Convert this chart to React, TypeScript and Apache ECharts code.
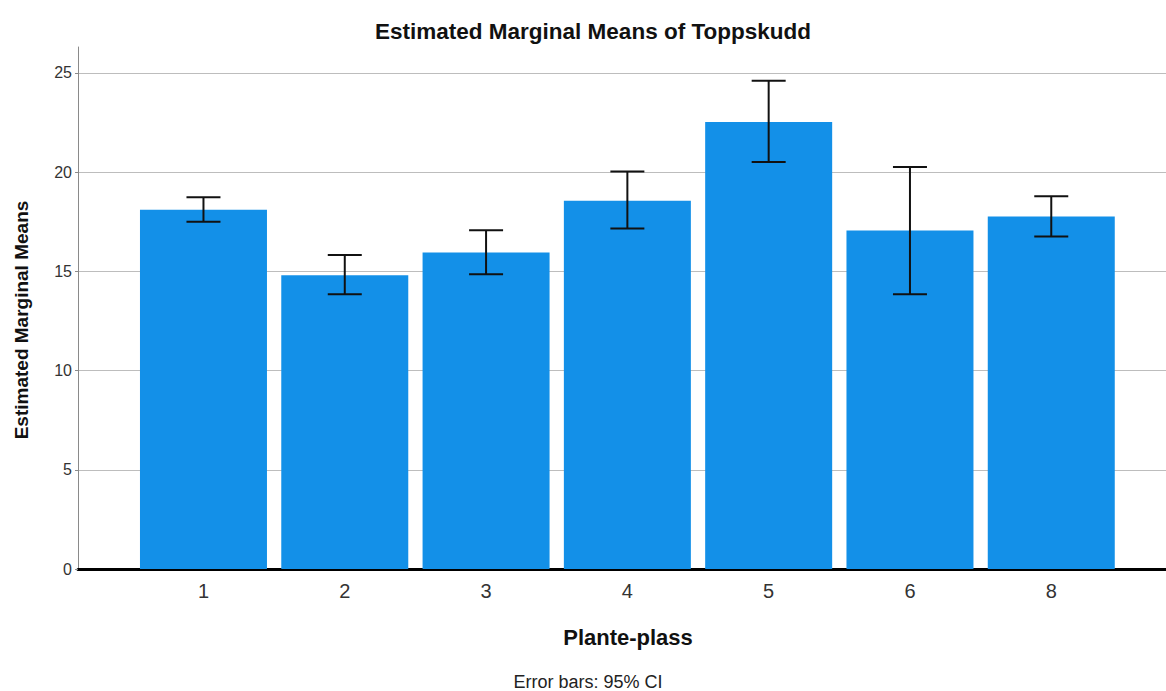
import React, { useEffect, useRef } from "react";
import * as echarts from "echarts";

const categories = ["1", "2", "3", "4", "5", "6", "8"];
const means = [18.1, 14.8, 15.95, 18.55, 22.52, 17.05, 17.76];
const lower = [17.49, 13.84, 14.85, 17.15, 20.5, 13.84, 16.75];
const upper = [18.73, 15.82, 17.07, 20.03, 24.6, 20.26, 18.78];
const yTicks = [0, 5, 10, 15, 20, 25];

export default function App() {
  const ref = useRef<HTMLDivElement>(null);
  useEffect(() => {
    if (!ref.current) return;
    const chart = echarts.init(ref.current, null, { renderer: "svg" });
    const font = "'Liberation Sans', Arial, sans-serif";
    const idx = categories.map((_, i) => i);
    chart.setOption({
      animation: false,
      backgroundColor: "#ffffff",
      textStyle: { fontFamily: font },
      title: {
        text: "Estimated Marginal Means of Toppskudd",
        left: 588,
        textAlign: "center",
        top: 15,
        textStyle: { fontFamily: font, fontSize: 22.5, fontWeight: "bold", color: "#111" },
      },
      graphic: [
        {
          type: "text",
          x: 21,
          y: 320,
          rotation: Math.PI / 2,
          style: {
            text: "Estimated Marginal Means",
            fontFamily: font,
            fontSize: 19,
            fontWeight: "bold",
            fill: "#111",
            align: "center",
            verticalAlign: "middle",
          },
        },
        {
          type: "text",
          x: 588,
          y: 682,
          style: {
            text: "Error bars: 95% CI",
            fontFamily: font,
            fontSize: 18,
            fill: "#222",
            align: "center",
            verticalAlign: "middle",
          },
        },
      ],
      grid: { left: 78, right: 0, top: 47, bottom: 122, containLabel: false },
      xAxis: {
        type: "value",
        min: -0.888,
        max: 6.812,
        name: "Plante-plass",
        nameLocation: "middle",
        nameGap: 57,
        nameTextStyle: { fontFamily: font, fontSize: 22, fontWeight: "bold", color: "#111", padding: [0, 0, 0, 12] },
        axisLine: { show: true, onZero: false, lineStyle: { color: "#000", width: 3 } },
        axisTick: { show: false },
        splitLine: { show: false },
        axisLabel: {
          customValues: idx,
          formatter: (v: number) => categories[Math.round(v)] ?? "",
          fontFamily: font,
          fontSize: 20,
          color: "#333",
          margin: 12,
        },
      },
      yAxis: {
        type: "value",
        min: 0,
        max: 26.3,
        axisLine: { show: true, onZero: false, lineStyle: { color: "#8a8a8a", width: 1 } },
        axisTick: { show: true, customValues: yTicks, length: 3, lineStyle: { color: "#8a8a8a" } },
        axisLabel: {
          customValues: yTicks,
          fontFamily: font,
          fontSize: 16,
          color: "#333",
          margin: 6,
        },
        splitLine: { show: true, lineStyle: { color: "#bdbdbd", width: 1 } },
      },
      series: [
        {
          type: "bar",
          data: means.map((m, i) => [i, m]),
          barWidth: 127,
          itemStyle: { color: "#1390e8" },
          z: 2,
        },
        {
          type: "custom",
          data: idx.map((i) => [i, lower[i], upper[i]]),
          z: 5,
          renderItem: (params: any, api: any) => {
            const x = api.value(0);
            const lo = api.coord([x, api.value(1)]);
            const hi = api.coord([x, api.value(2)]);
            const half = 17;
            const style = { stroke: "#111", lineWidth: 2 };
            return {
              type: "group",
              children: [
                { type: "line", shape: { x1: lo[0], y1: lo[1], x2: hi[0], y2: hi[1] }, style },
                { type: "line", shape: { x1: hi[0] - half, y1: hi[1], x2: hi[0] + half, y2: hi[1] }, style },
                { type: "line", shape: { x1: lo[0] - half, y1: lo[1], x2: lo[0] + half, y2: lo[1] }, style },
              ],
            };
          },
        },
      ],
    });
    return () => chart.dispose();
  }, []);
  return (
    <div
      ref={ref}
      style={{ position: "fixed", left: 0, top: 0, width: 1166, height: 691, background: "#fff" }}
    />
  );
}
